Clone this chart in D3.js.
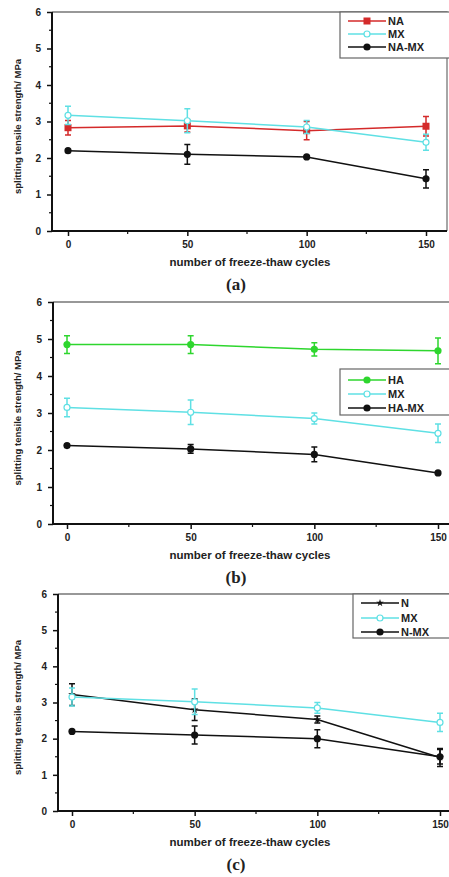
<!DOCTYPE html>
<html lang="en">
<head>
    <meta charset="UTF-8">
    <title>Splitting tensile strength vs freeze-thaw cycles</title>
    <script src="https://d3js.org/d3.v7.min.js"></script>
    <style>
        body { margin: 0; background: #fff; }
        text { font-family: "Liberation Sans", Arial, sans-serif; font-weight: bold; fill: #222; }
        .panel-tag { font-family: "Liberation Serif", "DejaVu Serif", serif; font-size: 17px; }
    </style>
</head>
<body>
<svg width="449" height="877"></svg>

<script>
    // data
    const cycles = [0, 50, 100, 150];
    const yTicks = [0, 1, 2, 3, 4, 5, 6];

    const naMean   = [2.83, 2.88, 2.75, 2.87];
    const naErr    = [0.20, 0.17, 0.25, 0.27];
    const mxMeanA  = [3.17, 3.02, 2.85, 2.43];
    const mxErrA   = [0.25, 0.33, 0.18, 0.22];
    const naMxMean = [2.20, 2.10, 2.03, 1.43];
    const naMxErr  = [0.02, 0.27, 0.02, 0.25];

    const haMean   = [4.85, 4.85, 4.72, 4.68];
    const haErr    = [0.24, 0.24, 0.18, 0.35];
    const mxMeanB  = [3.15, 3.02, 2.85, 2.45];
    const mxErrB   = [0.25, 0.33, 0.15, 0.25];
    const haMxMean = [2.12, 2.03, 1.88, 1.38];
    const haMxErr  = [0.03, 0.12, 0.20, 0.02];

    const nMean    = [3.22, 2.80, 2.53, 1.48];
    const nErr     = [0.30, 0.30, 0.10, 0.25];
    const mxMeanC  = [3.15, 3.02, 2.85, 2.45];
    const mxErrC   = [0.25, 0.35, 0.15, 0.25];
    const nMxMean  = [2.20, 2.10, 2.00, 1.50];
    const nMxErr   = [0.02, 0.25, 0.25, 0.20];

    const red = "#d42a2a", cyan = "#5fe0e4", green = "#2ed62e", black = "#111";

    const panels = [
        { tag: "(a)", top: 12, bottom: 231, left: 52, right: 447, x0: 68, x150: 426,
          legend: { x: 340, y: 12, w: 112, h: 46, rows: [21, 34, 47] },
          series: [
              { name: "NA", mean: naMean, err: naErr, color: red, mark: "square" },
              { name: "MX", mean: mxMeanA, err: mxErrA, color: cyan, mark: "open" },
              { name: "NA-MX", mean: naMxMean, err: naMxErr, color: black, mark: "dot" }
          ] },
        { tag: "(b)", top: 302, bottom: 524, left: 53, right: 452, x0: 67, x150: 438,
          legend: { x: 340, y: 369, w: 112, h: 46, rows: [380, 394, 408] },
          series: [
              { name: "HA", mean: haMean, err: haErr, color: green, mark: "dot" },
              { name: "MX", mean: mxMeanB, err: mxErrB, color: cyan, mark: "open" },
              { name: "HA-MX", mean: haMxMean, err: haMxErr, color: black, mark: "dot" }
          ] },
        { tag: "(c)", top: 594, bottom: 811, left: 58, right: 452, x0: 72, x150: 440,
          legend: { x: 353, y: 594, w: 100, h: 44, rows: [603, 618, 632] },
          series: [
              { name: "N", mean: nMean, err: nErr, color: black, mark: "star" },
              { name: "MX", mean: mxMeanC, err: mxErrC, color: cyan, mark: "open" },
              { name: "N-MX", mean: nMxMean, err: nMxErr, color: black, mark: "dot" }
          ] }
    ];

    const svg = d3.select("svg");

    function drawMark(g, s, cx, cy) {
        if (s.mark === "square") {
            g.append("rect").attr("x", cx - 3.5).attr("y", cy - 3.5)
                .attr("width", 7).attr("height", 7).attr("fill", s.color);
        } else if (s.mark === "open") {
            g.append("circle").attr("cx", cx).attr("cy", cy).attr("r", 3)
                .attr("fill", "#fff").attr("stroke", s.color).attr("stroke-width", 1.2);
        } else if (s.mark === "star") {
            g.append("path").attr("transform", `translate(${cx},${cy})`)
                .attr("d", d3.symbol(d3.symbolStar, 18)()).attr("fill", s.color);
        } else {
            g.append("circle").attr("cx", cx).attr("cy", cy).attr("r", 3.6).attr("fill", s.color);
        }
    }

    panels.forEach(function(p) {
        const x = d3.scaleLinear().domain([0, 150]).range([p.x0, p.x150]);
        const y = d3.scaleLinear().domain([0, 6]).range([p.bottom, p.top]);
        const g = svg.append("g");

        // frame (top / right lighter)
        g.append("path")
            .attr("d", `M${p.left},${p.top}H${p.right}V${p.bottom}`)
            .attr("fill", "none").attr("stroke", "#777").attr("stroke-width", 1.3);

        // y axis
        const yAxis = g.append("g").attr("transform", `translate(${p.left},0)`)
            .call(d3.axisLeft(y).tickValues(yTicks).tickSize(5).tickPadding(6).tickFormat(d3.format("d")));
        yAxis.select(".domain").remove();
        yAxis.selectAll("line").attr("stroke", black).attr("stroke-width", 1.5);
        yAxis.selectAll("text").attr("font-size", 10).attr("fill", "#222");
        yAxis.append("g").selectAll("line")
            .data(d3.range(0.5, 6, 1)).enter().append("line")
            .attr("x1", -3).attr("x2", 0).attr("y1", y).attr("y2", y)
            .attr("stroke", black).attr("stroke-width", 1.2);

        // x axis
        const xAxis = g.append("g").attr("transform", `translate(0,${p.bottom})`)
            .call(d3.axisBottom(x).tickValues(cycles).tickSize(5).tickPadding(5));
        xAxis.select(".domain").remove();
        xAxis.selectAll("line").attr("stroke", black).attr("stroke-width", 1.5);
        xAxis.selectAll("text").attr("font-size", 10).attr("fill", "#222");
        xAxis.append("g").selectAll("line")
            .data([25, 75, 125]).enter().append("line")
            .attr("x1", x).attr("x2", x).attr("y1", 0).attr("y2", 3)
            .attr("stroke", black).attr("stroke-width", 1.2);

        // axis lines
        g.append("line").attr("x1", p.left).attr("x2", p.left).attr("y1", p.top).attr("y2", p.bottom + 1)
            .attr("stroke", black).attr("stroke-width", 2);
        g.append("line").attr("x1", p.left - 1).attr("x2", p.right).attr("y1", p.bottom).attr("y2", p.bottom)
            .attr("stroke", black).attr("stroke-width", 2);

        // titles
        g.append("text").attr("x", 250).attr("y", p.bottom + 35)
            .attr("text-anchor", "middle").attr("font-size", 11.5).text("number of freeze-thaw cycles");
        g.append("text").attr("class", "panel-tag").attr("x", 236).attr("y", p.bottom + 59)
            .attr("text-anchor", "middle").text(p.tag);
        g.append("text")
            .attr("transform", `translate(21,${(p.top + p.bottom) / 2 + 5}) rotate(-90)`)
            .attr("text-anchor", "middle").attr("font-size", 9.5).attr("font-weight", "normal")
            .attr("fill", "#111").text("splitting tensile strength/ MPa");

        // series
        const line = d3.line().x((d, i) => x(cycles[i])).y(d => y(d));
        p.series.forEach(function(s) {
            g.append("path").datum(s.mean).attr("d", line)
                .attr("fill", "none").attr("stroke", s.color).attr("stroke-width", 1.5);
            s.mean.forEach(function(m, i) {
                const cx = x(cycles[i]);
                const lo = y(m - s.err[i]), hi = y(m + s.err[i]);
                g.append("path")
                    .attr("d", `M${cx},${lo}V${hi}M${cx - 3},${lo}H${cx + 3}M${cx - 3},${hi}H${cx + 3}`)
                    .attr("fill", "none").attr("stroke", s.color).attr("stroke-width", 1.5);
                drawMark(g, s, cx, y(m));
            });
        });

        // legend
        const L = p.legend;
        g.append("rect").attr("x", L.x).attr("y", L.y).attr("width", L.w).attr("height", L.h)
            .attr("fill", "#fff").attr("stroke", "#666").attr("stroke-width", 1.2);
        p.series.forEach(function(s, i) {
            const ly = L.rows[i];
            g.append("line").attr("x1", L.x + 8).attr("x2", L.x + 46).attr("y1", ly).attr("y2", ly)
                .attr("stroke", s.color).attr("stroke-width", 1.5);
            drawMark(g, s, L.x + 27, ly);
            g.append("text").attr("x", L.x + 48).attr("y", ly + 4)
                .attr("font-size", 11).text(s.name);
        });
    });
</script>
</body>
</html>
